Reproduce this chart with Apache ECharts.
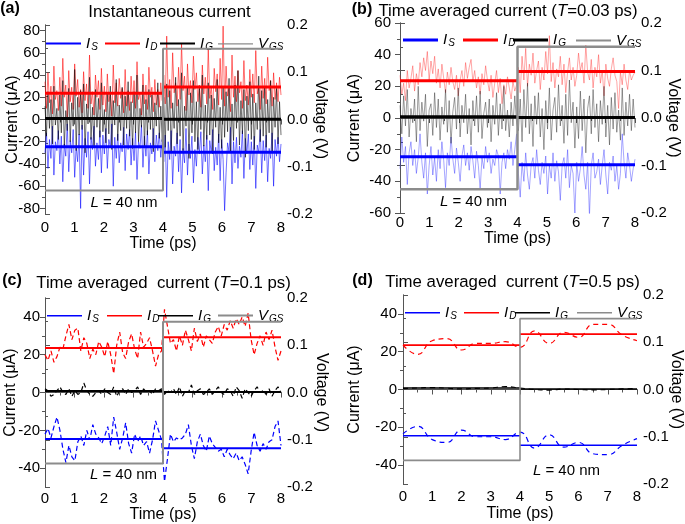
<!DOCTYPE html>
<html><head><meta charset="utf-8">
<script src="https://cdn.jsdelivr.net/npm/echarts@6/dist/echarts.min.js"></script>
<style>html,body{margin:0;padding:0;background:#fff}#c{width:685px;height:524px}</style>
</head><body><div id="c"></div>
<script>
// ---------- data ----------
const stepTimes = [0, 4, 8];
const vgsTime = [0, 4, 4, 8];
const vgsValue = [-0.15, -0.15, 0.15, 0.15];
const idMean = [23.5, 29.3];
const isMean = [-24.5, -29.5];
const igMean = [0.8, 0.3];

// (a) instantaneous current
const idA = [34,10,42,15,30,5,48,18,26,8,38,12,55,20,31,2,44,16,29,9,
50,21,36,11,27,6,43,17,32,10,58,14,25,4,40,20,35,9,46,13,
30,7,41,16,24,3,49,15,33,12,37,19,28,6,45,12,26,8,39,15,
35,10,52,18,24,4,41,14,31,9,47,20,29,7,36,13,27,11,33,17,
40,14,75,20,36,10,60,24,33,12,47,18,68,26,39,8,50,22,35,15,
57,27,42,16,31,11,49,23,38,14,64,19,30,9,46,25,41,13,55,18,
84,12,48,21,29,7,58,20,39,16,44,24,34,10,53,17,31,13,45,20,
41,15,62,23,30,9,48,19,37,14,56,26,35,12,42,18,33,16,38,22];
const isA = [-30,-12,-44,-18,-35,-6,-50,-20,-28,-10,-40,-15,-56,-22,-33,-4,-47,-19,-30,-9,
-52,-24,-38,-13,-80,-5,-50,-17,-34,-11,-58,-16,-27,-6,-42,-21,-36,-10,-48,-14,
-31,-8,-44,-18,-25,-4,-60,-16,-35,-13,-39,-21,-29,-7,-46,-13,-27,-9,-41,-17,
-37,-11,-54,-20,-26,-5,-43,-15,-33,-10,-49,-21,-31,-8,-38,-14,-28,-12,-34,-18,
-38,-14,-70,-20,-36,-10,-58,-24,-33,-12,-47,-18,-66,-26,-39,-8,-50,-22,-35,-15,
-57,-27,-42,-16,-31,-11,-49,-23,-38,-14,-64,-19,-30,-9,-46,-25,-41,-13,-55,-18,
-36,-82,-48,-21,-29,-7,-58,-20,-39,-16,-44,-24,-34,-10,-53,-17,-31,-13,-45,-20,
-41,-15,-62,-23,-30,-9,-48,-19,-37,-14,-56,-26,-35,-12,-60,-18,-33,-16,-38,-22];
const igA = [12,-15,25,-8,18,-22,30,-5,10,-18,22,-12,35,-25,8,-10,28,-20,15,-6,
45,-28,20,-14,26,-9,32,-30,14,-4,38,-18,11,-24,27,-7,19,-16,33,-11,
9,-21,24,-13,30,-27,17,-5,36,-19,13,-10,29,-23,21,-8,34,-15,16,-26,
25,-12,40,-20,10,-7,31,-24,18,-14,27,-9,22,-29,15,-6,33,-17,12,-20,
20,-25,32,-10,26,-30,15,-8,38,-22,18,-15,42,-28,12,-6,30,-35,24,-12,
35,-20,16,-27,28,-9,40,-24,13,-18,33,-14,22,-31,19,-7,36,-21,11,-26,
29,-16,25,-11,37,-29,14,-19,31,-8,44,-23,17,-13,27,-34,21,-10,34,-18,
23,-27,15,-9,39,-20,26,-15,30,-25,18,-12,35,-30,20,-7,28,-22,16,-14];

// (b) T = 0.03 ps
const idB = [27,15,22,11,30,19,25,33,17,28,21,35,26,38,30,42,24,36,28,39,
22,31,19,34,25,16,29,21,32,23,18,27,14,24,30,20,35,25,32,37,
23,30,19,26,15,28,21,33,24,17,27,13,22,30,16,25,9,21,15,26,
19,12,23,17,21,
32,16,39,24,44,20,34,27,41,22,30,36,18,32,24,42,28,52,23,35,
19,31,26,39,21,34,16,29,38,24,32,20,27,41,30,35,22,46,29,24,
37,19,32,26,40,22,30,14,34,25,20,31,38,27,23,6,29,21,34,24,
18,30,24,27,29];
const isB = [-32,-12,-28,-18,-42,-22,-15,-30,-20,-35,-25,-10,-28,-38,-22,-48,-30,-18,-36,-25,
-40,-20,-32,-15,-27,-44,-22,-30,-12,-26,-35,-19,-28,-40,-24,-17,-30,-22,-33,-18,
-27,-38,-21,-30,-45,-25,-32,-18,-28,-22,-35,-26,-30,-20,-24,-48,-28,-22,-32,-20,
-26,-15,-30,-20,-10,
-35,-50,-28,-40,-22,-36,-45,-30,-25,-38,-20,-33,-42,-28,-35,-24,-48,-30,-38,-22,
-40,-27,-34,-52,-30,-25,-38,-20,-44,-30,-35,-60,-28,-40,-32,-18,-36,-45,-28,-62,
-30,-22,-38,-34,-26,-42,-30,-20,-36,-48,-28,-33,-24,-40,-30,-45,-35,-10,-28,-38,
-22,-30,-40,-32,-26];
const igB = [8,-10,14,-5,18,-12,6,-3,12,-15,20,-8,10,-2,15,-18,5,9,-11,16,
-6,12,-14,7,-4,18,-9,11,-16,4,13,-7,19,-12,8,-3,15,-10,6,-17,
11,-5,14,-9,17,-13,3,10,-6,12,-15,8,-4,16,-11,9,-7,20,-8,5,
-12,10,-5,14,-3,
-8,12,-15,18,-6,22,-10,9,-18,14,-4,16,-12,6,-20,11,-7,19,-14,5,
13,-9,21,-5,8,-16,15,-11,24,-3,10,-19,7,-13,17,-8,12,-22,6,14,
-10,18,-6,9,-15,11,-4,20,-12,8,-17,13,-7,16,-9,5,-14,19,-11,10,
-5,15,-8,12,-6];

// (c) T = 0.1 ps
const idC = [20,17,22,16,19,24,23,30,36,28,33,34,22,29,26,18,23,20,27,24,
19,27,20,10,25,32,21,18,27,31,23,18,32,24,26,29,22,14,20,22,
44,35,26,28,22,30,25,33,28,22,34,27,31,24,30,28,26,32,35,30,
36,33,38,34,39,36,40,35,42,28,20,26,30,25,32,28,33,24,17,22];
const isC = [-22,-19,-24,-18,-13,-20,-30,-37,-28,-34,-36,-26,-23,-28,-20,-25,-17,-22,-24,-27,
-23,-18,-28,-13,-21,-30,-24,-16,-27,-32,-22,-26,-23,-28,-26,-32,-25,-15,-20,-25,
-47,-35,-22,-26,-24,-25,-24,-22,-17,-28,-35,-26,-22,-28,-31,-23,-27,-29,-31,-30,
-34,-30,-33,-35,-32,-36,-34,-38,-43,-31,-21,-28,-31,-27,-30,-26,-25,-18,-15,-28];
const igC = [2,1,-2,-1,1,3,0,-1,2,-2,1,-1,0,5,1,-1,-2,0,1,-1,
2,0,-1,3,-2,1,2,-1,2,0,1,3,-1,2,0,1,-1,2,1,2,
-1,1,0,2,-1,3,-2,1,0,4,-1,1,2,-1,0,2,-1,1,3,0,
-1,2,1,-2,3,1,-3,2,0,-2,1,3,0,1,-1,2,-2,1,3,0];

// (d) T = 0.5 ps
const timeD = [0,0.5,1,1.5,2,2.5,3,3.5,4,4.5,5,5.5,6,6.5,7,7.5,8];
const idD = [23.5,18.6,25.8,26.9,20.9,24.4,24.4,25.3,22.3,31,24.4,30.3,27.6,34.5,34.5,28.8,25.8];
const isD = [-23.5,-19.5,-26.5,-28,-21.5,-25,-25,-26.5,-22.5,-31,-24,-30.5,-28,-34,-34.5,-29.5,-26];
const igD = [0.5,0.8,1,0.7,0.3,0.6,0.8,1.5,0.8,0,-0.3,0.2,0,-0.2,0,0.3,0.5];

// tick labels
const timeTicks = [0,1,2,3,4,5,6,7,8];
const currTicksA = [-80,-60,-40,-20,0,20,40,60,80];
const currMinorA = [-70,-50,-30,-10,10,30,50,70];
const currTicksB = [-60,-40,-20,0,20,40,60];
const currMinorB = [-50,-30,-10,10,30,50];
const currTicksCD = [-40,-20,0,20,40];
const currMinorCD = [-30,-10,10,30];

const titles = ['Instantaneous current', 'Time averaged current (', 'Time averaged  current (', 'Time averaged  current ('];
const titleT = ['', '0.03', '0.1', '0.5'];
const panelLabels = ['(a)', '(b)', '(c)', '(d)'];

// ---------- layout ----------
const F = "'Liberation Sans', Arial, sans-serif";
const AX = '#555';
const seq = (n) => Array.from({length: n}, (_, i) => i * 8 / (n - 1));
const panels = [
  {grid:{left:45,top:25,width:236,height:189}, t:seq(idA.length), id:idA, is:isA, ig:igA,
   yMin:-85, yMax:85, ticks:currTicksA, minor:currMinorA, lNameGap:24, rNameGap:31, xNameGap:22, xMargin:6, lMargin:5,
   nW:0.8, nOp:[0.7,0.7,0.7], nCol:['#0000ff','#ff0000','#000000'], dash:'solid', smooth:false, mW:3, vW:2,
   leg:[46,105,160,218], legY:36, legW:2, legV:1.2},
  {grid:{left:400,top:23,width:235,height:190}, t:seq(idB.length), id:idB, is:isB, ig:igB,
   yMin:-60, yMax:60, ticks:currTicksB, minor:currMinorB, lNameGap:37, rNameGap:30, xNameGap:14, xMargin:2, lMargin:9,
   nW:0.8, nOp:[0.5,0.5,0.55], nCol:['#2222ff','#ff2222','#222222'], dash:'solid', smooth:false, mW:3, vW:2.5,
   leg:[403,463,513,576], legY:33, legW:3, legV:2},
  {grid:{left:45,top:298,width:236,height:190}, t:seq(idC.length), id:idC, is:isC, ig:igC,
   yMin:-50, yMax:50, ticks:currTicksCD, minor:currMinorCD, lNameGap:26, rNameGap:32, xNameGap:19, xMargin:4, lMargin:5,
   nW:1.2, nOp:[1,1,1], nCol:['#0000ff','#ff0000','#000000'], dash:[5,3], smooth:false, mW:2, vW:2,
   leg:[47,107,158,218], legY:308, legW:1.5, legV:2},
  {grid:{left:403,top:295,width:236,height:189}, t:timeD, id:idD, is:isD, ig:igD,
   yMin:-50, yMax:50, ticks:currTicksCD, minor:currMinorCD, lNameGap:40, rNameGap:31, xNameGap:22, xMargin:5, lMargin:6,
   nW:1.2, nOp:[1,1,1], nCol:['#0000ff','#ff0000','#000000'], dash:[5,4], smooth:0.5, mW:1.6, vW:1.6,
   leg:[405,464,515,577], legY:305, legW:1.5, legV:1.5}
];
const txtPos = [
  {lab:[10,9], title:[169.5,12], L:[124,203]},
  {lab:[362,10], title:[508,11], L:[473.5,202]},
  {lab:[12,281], title:[163.5,283], L:[123.5,475]},
  {lab:[362.5,281], title:[512.5,282], L:[566.5,471]}
];

const nameStyle = {fontSize:16, fontFamily:F, color:'#000'};
const labStyle = {fontSize:15, fontFamily:F, color:'#000'};
const grid = [], xAxis = [], yAxis = [], series = [], legend = [], graphic = [];
const legLabels = {IS:'{i|I}{s|S}', ID:'{i|I}{s|D}', IG:'{i|I}{s|G}', VGS:'{i|V}{s|GS}'};
const rich = {
  i:{fontFamily:F, fontSize:15, fontStyle:'italic', color:'#000', lineHeight:17},
  s:{fontFamily:F, fontSize:10, fontStyle:'italic', color:'#000', lineHeight:10, padding:[7,0,0,1]}
};
const TF = 16.8;
const tRich = {n:{fontFamily:F, fontSize:TF, color:'#000'}, i:{fontFamily:F, fontSize:TF, fontStyle:'italic', color:'#000'}};
const lRich = {n:{fontFamily:F, fontSize:15, color:'#000'}, i:{fontFamily:F, fontSize:15, fontStyle:'italic', color:'#000'}};

panels.forEach((P, p) => {
  grid.push(P.grid);
  xAxis.push({type:'value', gridIndex:p, min:0, max:8, interval:1, position:'bottom',
    name:'Time (ps)', nameLocation:'middle', nameGap:P.xNameGap, nameTextStyle:nameStyle,
    axisLine:{show:true, lineStyle:{color:AX, width:1}},
    axisTick:{show:true, length:5, lineStyle:{color:AX}},
    minorTick:{show:true, splitNumber:2, length:3, lineStyle:{color:AX}},
    axisLabel:Object.assign({margin:P.xMargin, customValues:timeTicks}, labStyle),
    splitLine:{show:false}, minorSplitLine:{show:false}});
  xAxis.push({type:'value', gridIndex:p, min:0, max:8, position:'top',
    axisLine:{show:true, lineStyle:{color:AX, width:1}}, axisTick:{show:false}, axisLabel:{show:false}, splitLine:{show:false}});
  yAxis.push({type:'value', gridIndex:p, position:'left', min:P.yMin, max:P.yMax,
    name:'Current (\u03bcA)', nameLocation:'middle', nameRotate:90, nameGap:P.lNameGap, nameMoveOverlap:false,
    nameTextStyle:nameStyle,
    axisLine:{show:true, lineStyle:{color:AX, width:1}},
    axisTick:{show:true, length:5, customValues:P.ticks, lineStyle:{color:AX}},
    axisLabel:Object.assign({margin:P.lMargin, customValues:P.ticks}, labStyle),
    splitLine:{show:false}});
  yAxis.push({type:'value', gridIndex:p, position:'right', min:-0.2, max:0.2, interval:0.1,
    name:'Voltage (V)', nameLocation:'middle', nameRotate:-90, nameGap:P.rNameGap, nameMoveOverlap:false,
    nameTextStyle:nameStyle,
    axisLine:{show:true, lineStyle:{color:AX, width:1}},
    axisTick:{show:true, length:5, lineStyle:{color:AX}},
    minorTick:{show:true, splitNumber:2, length:3, lineStyle:{color:AX}},
    axisLabel:Object.assign({margin:6, formatter:(v) => v.toFixed(1)}, labStyle),
    splitLine:{show:false}, minorSplitLine:{show:false}});
  yAxis.push({type:'value', gridIndex:p, position:'left', min:P.yMin, max:P.yMax,
    axisLine:{show:false}, axisTick:{show:true, length:3, customValues:P.minor, lineStyle:{color:AX}},
    axisLabel:{show:false}, splitLine:{show:false}});

  const xi = 2 * p, yL = 3 * p, yR = 3 * p + 1;
  const base = {type:'line', xAxisIndex:xi, yAxisIndex:yL, symbol:'none', silent:true, animation:false};
  [['is', 0], ['id', 1], ['ig', 2]].forEach(([k, c]) => {
    series.push(Object.assign({}, base, {name:'n' + k + p, z:2, smooth:P.smooth,
      data:P.t.map((x, i) => [x, P[k][i]]),
      lineStyle:{color:P.nCol[c], width:P.nW, opacity:P.nOp[c], type:P.dash}}));
  });
  [['IS', isMean, '#0000ff'], ['ID', idMean, '#ff0000'], ['IG', igMean, '#000000']].forEach(([nm, m, col]) => {
    for (let s = 0; s < 2; s++) {
      series.push(Object.assign({}, base, {name:nm + p, z:3, color:col, itemStyle:{color:col},
        data:[[stepTimes[s], m[s]], [stepTimes[s + 1], m[s]]],
        lineStyle:{color:col, width:P.mW, cap:'butt'}}));
    }
  });
  series.push(Object.assign({}, base, {name:'VGS' + p, yAxisIndex:yR, z:4, color:'#8c8c8c', itemStyle:{color:'#8c8c8c'},
    data:vgsTime.map((x, i) => [x, vgsValue[i]]),
    lineStyle:{color:'#8c8c8c', width:P.vW}}));

  ['IS', 'ID', 'IG', 'VGS'].forEach((nm, k) => {
    const h = nm === 'VGS' ? P.legV : P.legW;
    legend.push({data:[nm + p], left:P.leg[k], top:P.legY - h / 2, padding:0, itemGap:0,
      icon:'rect', itemWidth:35, itemHeight:h, selectedMode:false,
      formatter:() => legLabels[nm], textStyle:{rich}});
  });

  const T = txtPos[p];
  graphic.push({type:'text', x:T.lab[0], y:T.lab[1], style:{text:panelLabels[p],
    font:'bold 16px ' + F, fill:'#000', align:'center', verticalAlign:'middle', textAlign:'center', textVerticalAlign:'middle'}});
  const tText = titleT[p] ? '{n|' + titles[p] + '}{i|T}{n|=' + titleT[p] + ' ps)}' : '{n|' + titles[p] + '}';
  graphic.push({type:'text', x:T.title[0], y:T.title[1], style:{text:tText, rich:tRich,
    font:TF + 'px ' + F, fill:'#000', align:'center', verticalAlign:'middle', textAlign:'center', textVerticalAlign:'middle'}});
  graphic.push({type:'text', x:T.L[0], y:T.L[1], style:{text:'{i|L}{n| = 40 nm}', rich:lRich,
    font:'15px ' + F, fill:'#000', align:'center', verticalAlign:'middle', textAlign:'center', textVerticalAlign:'middle'}});
});

const chart = echarts.init(document.getElementById('c'));
chart.setOption({animation:false, backgroundColor:'#fff', grid, xAxis, yAxis, series, legend, graphic,
  textStyle:{fontFamily:F}});
</script></body></html>
